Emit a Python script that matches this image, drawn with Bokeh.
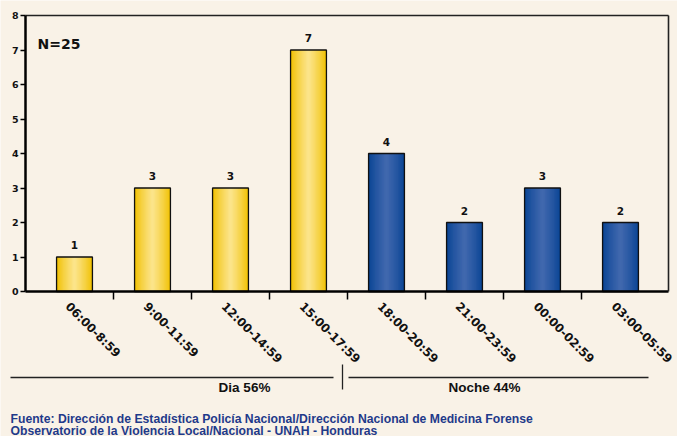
import math
from bokeh.plotting import figure
from bokeh.models import FixedTicker, Range1d, LinearAxis
from bokeh.core.properties import value
from bokeh.embed import file_html
from bokeh.resources import INLINE

# ---- data ----
categories = ["06:00-8:59", "9:00-11:59", "12:00-14:59", "15:00-17:59",
              "18:00-20:59", "21:00-23:59", "00:00-02:59", "03:00-05:59"]
counts = [1, 3, 3, 7, 4, 2, 3, 2]
period = ["dia", "dia", "dia", "dia", "noche", "noche", "noche", "noche"]
y_ticks = [0, 1, 2, 3, 4, 5, 6, 7, 8]
group_labels = ["Dia 56%", "Noche 44%"]
n_label = "N=25"
source_lines = ["Fuente: Dirección de Estadística Policía Nacional/Dirección Nacional de Medicina Forense",
                "Observatorio de la Violencia Local/Nacional - UNAH - Honduras"]

BG = "#F9F2E7"
PX_X = 78.0      # px per category
PX_Y = 34.5      # px per unit

def px(page_x):
    return (page_x - 74) / PX_X

def py(page_y):
    return (291 - page_y) / PX_Y

W, H = 677, 436
p = figure(width=W, height=H, output_backend="svg", toolbar_location=None,
           x_range=Range1d(px(0), px(W)), y_range=Range1d(py(H), py(0)),
           x_axis_type=None, y_axis_type=None,
           min_border_left=0, min_border_top=0, min_border_right=0, min_border_bottom=0)
p.background_fill_color = BG
p.border_fill_color = BG
p.outline_line_color = None
p.xgrid.visible = False
p.ygrid.visible = False

X0, X1 = px(25), px(668)

# y axis
yax = LinearAxis(fixed_location=X0, bounds=(0, 8), ticker=FixedTicker(ticks=y_ticks))
yax.axis_line_width = 2.5
yax.axis_line_color = "black"
yax.major_tick_out = 5
yax.major_tick_in = 0
yax.minor_tick_line_color = None
yax.major_tick_line_width = 1.5
yax.major_label_text_font = "DejaVu Sans"
yax.major_label_text_font_style = "bold"
yax.major_label_text_font_size = "9.5px"
yax.major_label_text_color = "#111111"
yax.major_label_standoff = 2
p.add_layout(yax, "left")

# x axis (ticks at category boundaries)
xax = LinearAxis(fixed_location=0, bounds=(X0, X1),
                 ticker=FixedTicker(ticks=[i + 0.5 for i in range(len(categories) - 1)]))
xax.axis_line_width = 2.5
xax.axis_line_color = "black"
xax.major_tick_out = 8
xax.major_tick_in = 0
xax.major_tick_line_width = 1.5
xax.minor_tick_line_color = None
xax.major_label_overrides = {i + 0.5: "" for i in range(len(categories) - 1)}
xax.major_label_text_font_size = "1px"
p.add_layout(xax, "below")

# frame top / right
tax = LinearAxis(fixed_location=8, bounds=(X0, X1), ticker=FixedTicker(ticks=[]))
tax.axis_line_width = 1.6
tax.axis_line_color = "#222222"
tax.major_label_text_font_size = "1px"
p.add_layout(tax, "above")
rax = LinearAxis(fixed_location=X1, bounds=(0, 8), ticker=FixedTicker(ticks=[]))
rax.axis_line_width = 1.6
rax.axis_line_color = "#222222"
rax.major_label_text_font_size = "1px"
p.add_layout(rax, "right")

colors = {"dia": ("#F0C000", "#FCE48A"), "noche": ("#094494", "#4068AE")}

def mix(c1, c2, t):
    a = [int(c1[i:i + 2], 16) for i in (1, 3, 5)]
    b = [int(c2[i:i + 2], 16) for i in (1, 3, 5)]
    return "#%02x%02x%02x" % tuple(int(round(a[k] + (b[k] - a[k]) * t)) for k in range(3))

BW = 0.46
NS = 14
xs = list(range(len(categories)))
gx, gtop, gw, gc = [], [], [], []
for k in range(NS):
    frac = 1 - k / NS
    for i, (v, per) in enumerate(zip(counts, period)):
        edge, center = colors[per]
        gx.append(i)
        gtop.append(v)
        gw.append(BW * frac)
        gc.append(mix(edge, center, (k / (NS - 1)) ** 0.8))
p.vbar(x=gx, top=gtop, bottom=0, width=gw, fill_color=gc, line_color=None)
p.vbar(x=xs, top=counts, bottom=0, width=BW, fill_color=None, line_color="#111111", line_width=1.3)

# value labels
p.text(x=xs, y=[c + 12 / PX_Y for c in counts], text=[str(c) for c in counts],
       text_align="center", text_baseline="alphabetic", text_font=value("DejaVu Sans"),
       text_font_style="bold", text_font_size="10.5px", text_color="#111111")

p.text(x=[px(37)], y=[py(43)], text=[n_label], text_font=value("DejaVu Sans"),
       text_font_style="bold", text_font_size="14px", text_baseline="middle",
       text_color="#111111")

# rotated category labels
p.text(x=[i - 2 / PX_X for i in xs], y=[py(299)] * len(xs), text=categories, angle=-math.pi / 4,
       text_align="left", text_baseline="top", text_font=value("DejaVu Sans"),
       text_font_style="bold", text_font_size="11.8px", text_color="#111111")

# group lines
p.segment(x0=[px(10), px(348), px(342)], x1=[px(333), px(648), px(342)],
          y0=[py(377), py(377), py(364)], y1=[py(377), py(377), py(389)],
          line_color="#222222", line_width=1.3)

p.text(x=[px(244), px(484)], y=[py(387)] * 2, text=group_labels, text_align="center",
       text_baseline="middle", text_font=value("Liberation Sans"),
       text_font_style="bold", text_font_size="13.5px", text_color="#111111")

p.text(x=[px(10)] * len(source_lines), y=[py(418), py(430)], text=source_lines,
       text_align="left", text_baseline="middle", text_font=value("Liberation Sans"),
       text_font_style="bold", text_font_size="12.2px", text_color="#1F3A8A")

open("out.html", "w").write(file_html(p, INLINE))
